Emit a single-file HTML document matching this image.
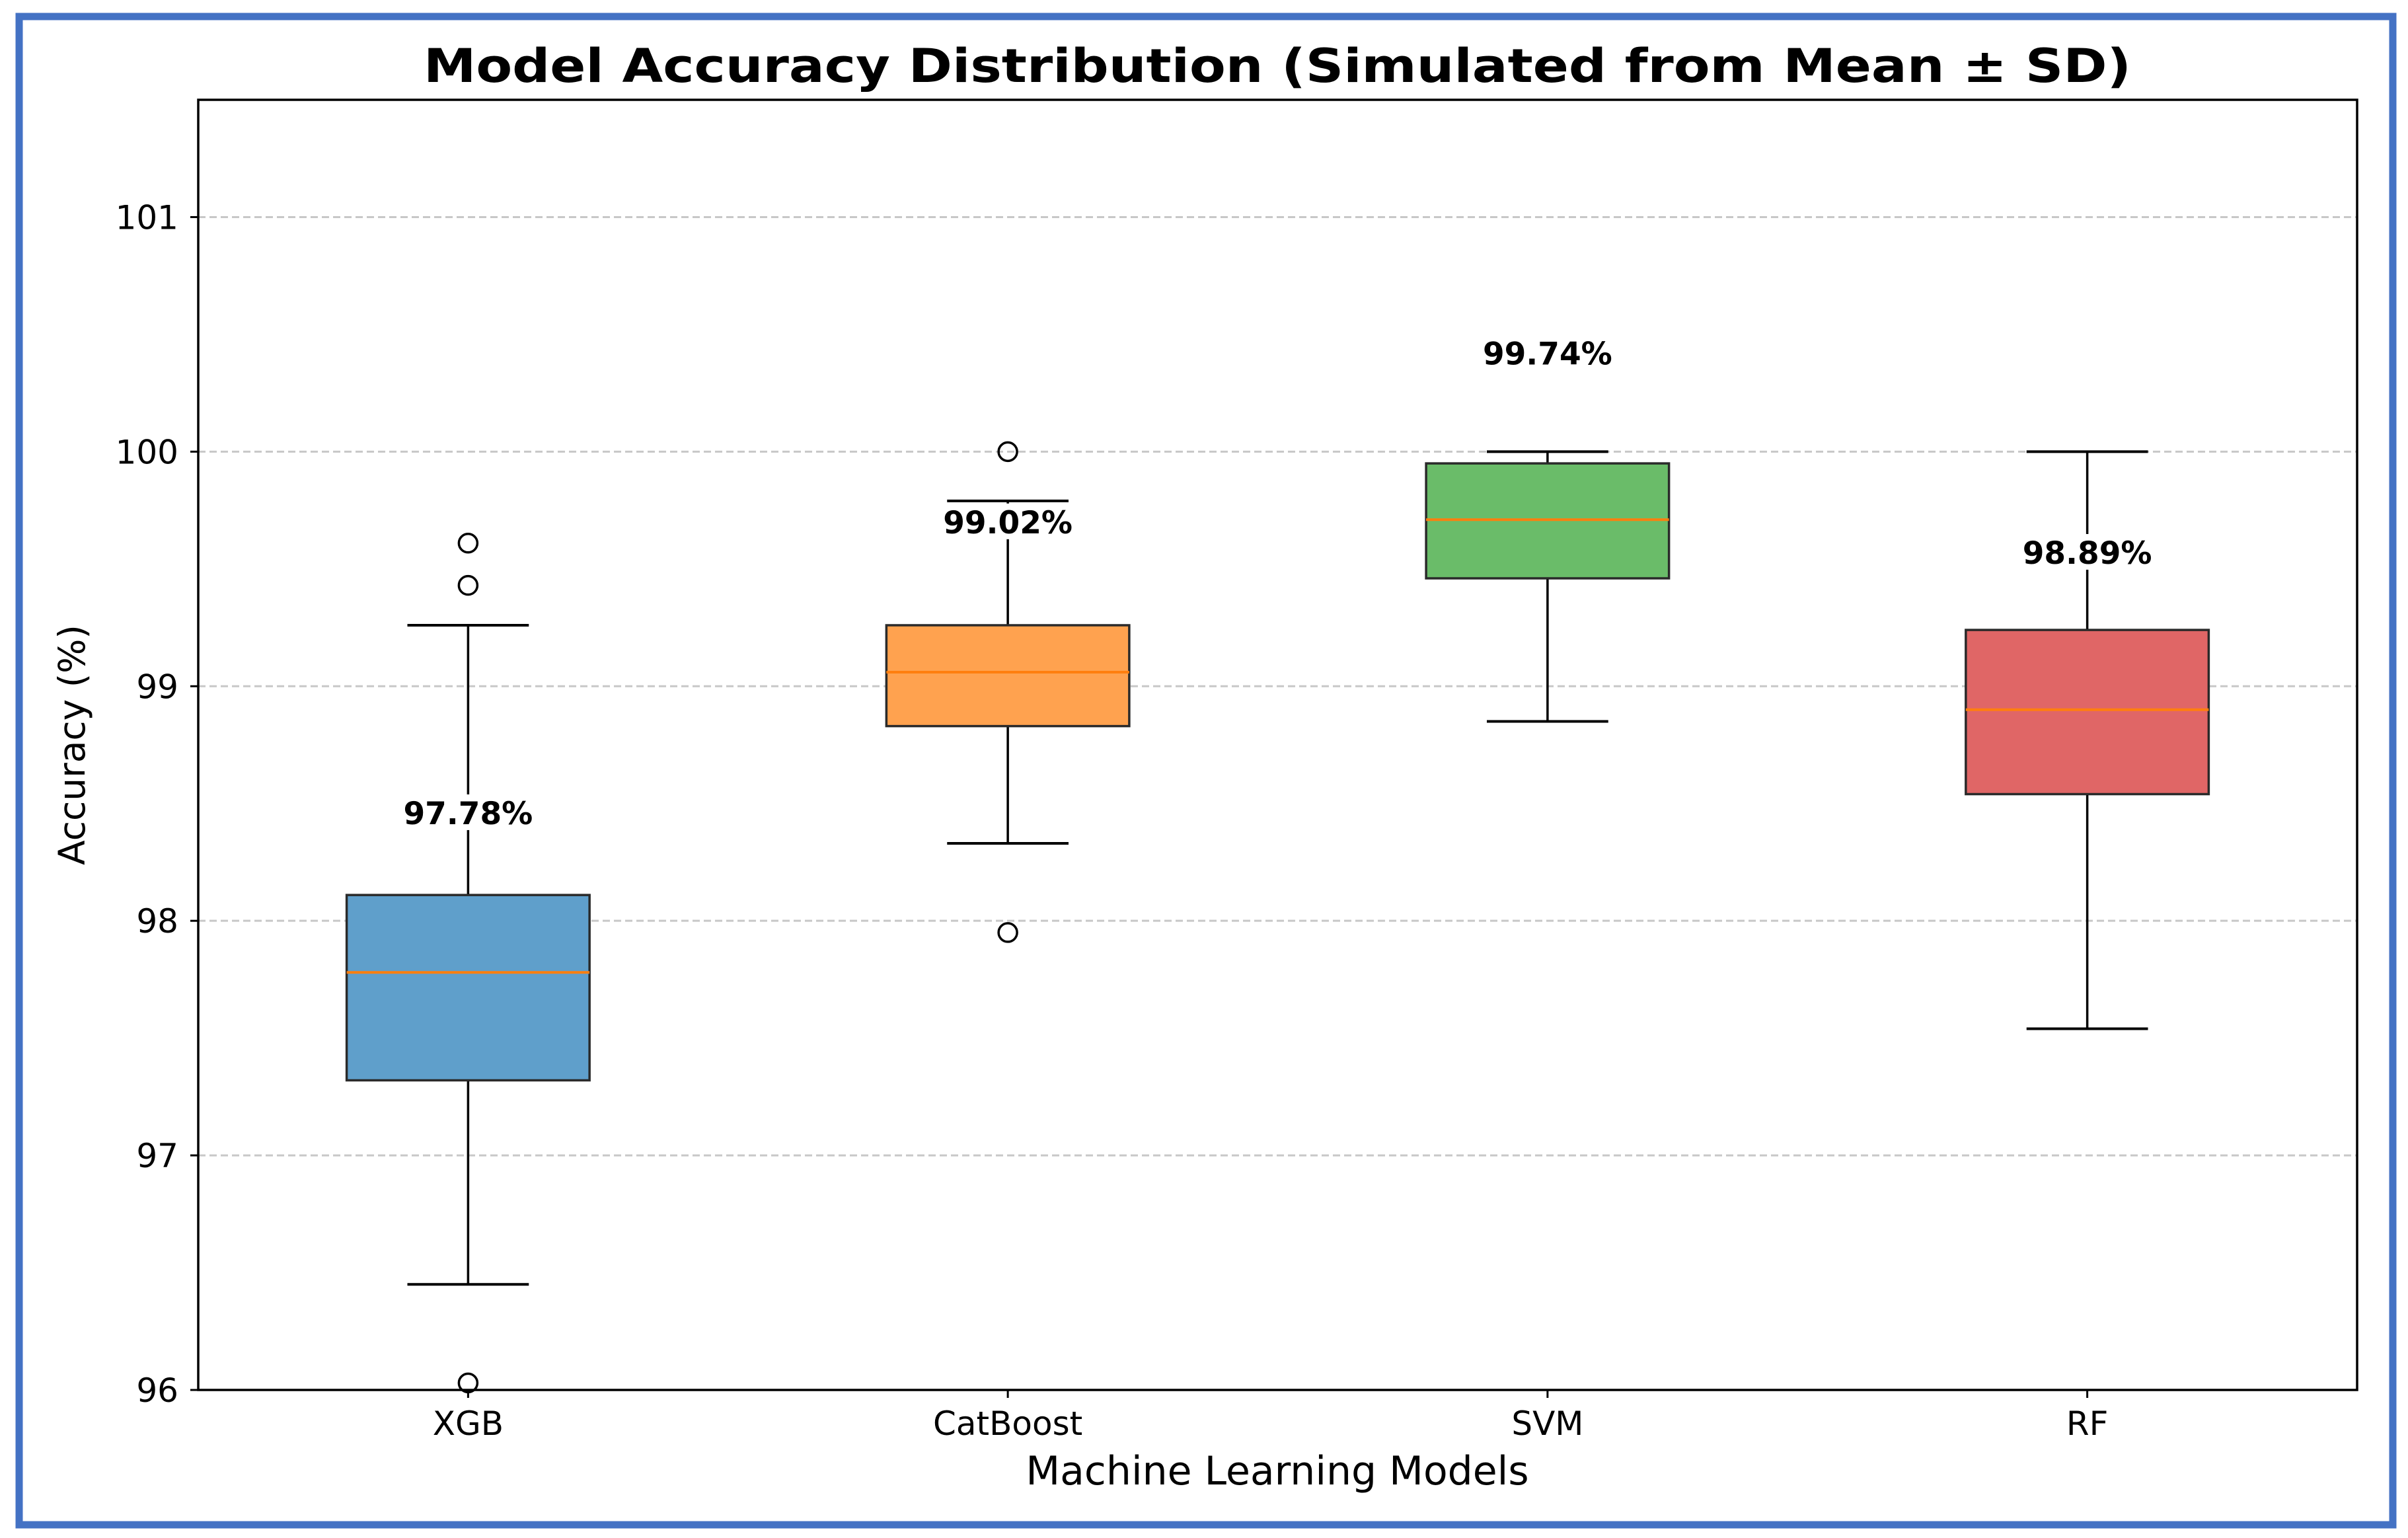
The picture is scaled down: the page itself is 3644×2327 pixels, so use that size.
<!DOCTYPE html>
<html><head><meta charset="utf-8"><style>
html,body{margin:0;padding:0;background:#fff;}
svg{display:block;font-family:"DejaVu Sans","Liberation Sans",sans-serif;}
</style></head><body>
<svg id="chart" width="3644" height="2327" viewBox="0 0 3644 2327" xmlns="http://www.w3.org/2000/svg">
<rect x="0" y="0" width="3644" height="2327" fill="#fff"/>
<rect x="29" y="25" width="3592" height="2282" fill="none" stroke="#4472c4" stroke-width="11"/>
<text x="1933" y="124" text-anchor="middle" font-size="70" font-weight="bold" textLength="2584" lengthAdjust="spacingAndGlyphs">Model Accuracy Distribution (Simulated from Mean ± SD)</text>
<g id="grid"></g>
<g id="boxes"></g>
<g id="axes"></g>
<text x="1933" y="2246" text-anchor="middle" font-size="60">Machine Learning Models</text>
<text transform="translate(128,1127) rotate(-90)" text-anchor="middle" font-size="55">Accuracy (%)</text>
</svg>
<script>
const categories = ["XGB","CatBoost","SVM","RF"];
const q1 = [97.32, 98.83, 99.46, 98.54];
const q3 = [98.11, 99.26, 99.95, 99.24];
const medians = [97.78, 99.06, 99.71, 98.90];
const whiskerLow = [96.45, 98.33, 98.85, 97.54];
const whiskerHigh = [99.26, 99.79, 100.0, 100.0];
const outliers = [[99.61, 99.43, 96.03], [100.0, 97.95], [], []];
const meanLabels = ["97.78%","99.02%","99.74%","98.89%"];
const labelValues = [98.46, 99.70, 100.42, 99.57];
const yTicks = [96, 97, 98, 99, 100, 101];
const colors = ["#5f9fcb","#ffa24f","#6abc69","#e06666"];

const NS = "http://www.w3.org/2000/svg";
const L = 300, R = 3567, T = 151, B = 2103;
const yMin = 96, yMax = 101.5;
function y(v){ return B - (v - yMin) / (yMax - yMin) * (B - T); }
function x(i){ return L + (i + 0.5) / categories.length * (R - L); }
const unit = (R - L) / categories.length;
function mk(tag, attrs, parent){ const e = document.createElementNS(NS, tag); for (const k in attrs) e.setAttribute(k, attrs[k]); parent.appendChild(e); return e; }
const grid = document.getElementById('grid'), boxes = document.getElementById('boxes'), axes = document.getElementById('axes');

yTicks.forEach(t => {
  const g = mk('line', {x1:L, x2:R, y1:y(t), y2:y(t), stroke:'#c8c8c8', 'stroke-width':3, 'stroke-dasharray':'11 6'}, grid);
  
  
  const tk = mk('line', {x1:L-12, x2:L, y1:y(t), y2:y(t), stroke:'#000', 'stroke-width':3}, axes);
  
  
  const tl = mk('text', {x:L-30, y:y(t)+18, 'text-anchor':'end', 'font-size':50}, axes);
  tl.textContent = t;
  
  
});

categories.forEach((c, i) => {
  const cx = x(i), hw = unit * 0.225, cw = unit * 0.1125;
  const g = mk('g', {}, boxes);
  
  
  const wl = mk('line', {x1:cx, x2:cx, y1:y(q1[i]), y2:y(whiskerLow[i]), stroke:'#000', 'stroke-width':3.5}, g);
  
  
  const wh = mk('line', {x1:cx, x2:cx, y1:y(q3[i]), y2:y(whiskerHigh[i]), stroke:'#000', 'stroke-width':3.5}, g);
  
  
  const cl = mk('line', {x1:cx-cw, x2:cx+cw, y1:y(whiskerLow[i]), y2:y(whiskerLow[i]), stroke:'#000', 'stroke-width':4}, g);
  
  
  const ch = mk('line', {x1:cx-cw, x2:cx+cw, y1:y(whiskerHigh[i]), y2:y(whiskerHigh[i]), stroke:'#000', 'stroke-width':4}, g);
  
  
  const r = mk('rect', {x:cx-hw, y:y(q3[i]), width:2*hw, height:y(q1[i])-y(q3[i]), fill:colors[i], stroke:'#2a2a2a', 'stroke-width':3.5}, g);
  
  
  const m = mk('line', {x1:cx-hw, x2:cx+hw, y1:y(medians[i]), y2:y(medians[i]), stroke:'#ff7f0e', 'stroke-width':4}, g);
  
  
  outliers[i].forEach(v => {
    const o = mk('circle', {cx:cx, cy:y(v), r:14, fill:'none', stroke:'#000', 'stroke-width':3.5}, g);
    
    
  });
  const ly = y(labelValues[i]);
  const bg = mk('rect', {x:cx-106, y:ly-28, width:212, height:54, fill:'#fff'}, g);
  
  
  const lt = mk('text', {x:cx, y:ly+17, 'text-anchor':'middle', 'font-size':47, 'font-weight':'bold'}, g);
  lt.textContent = meanLabels[i];
  
  
  const xt = mk('line', {x1:cx, x2:cx, y1:B, y2:B+12, stroke:'#000', 'stroke-width':3}, axes);
  
  
  const xl = mk('text', {x:cx, y:B+68, 'text-anchor':'middle', 'font-size':50}, axes);
  xl.textContent = c;
  
  
});
const frame = mk('rect', {x:L, y:T, width:R-L, height:B-T, fill:'none', stroke:'#000', 'stroke-width':3.5}, axes);


</script>
</body></html>
